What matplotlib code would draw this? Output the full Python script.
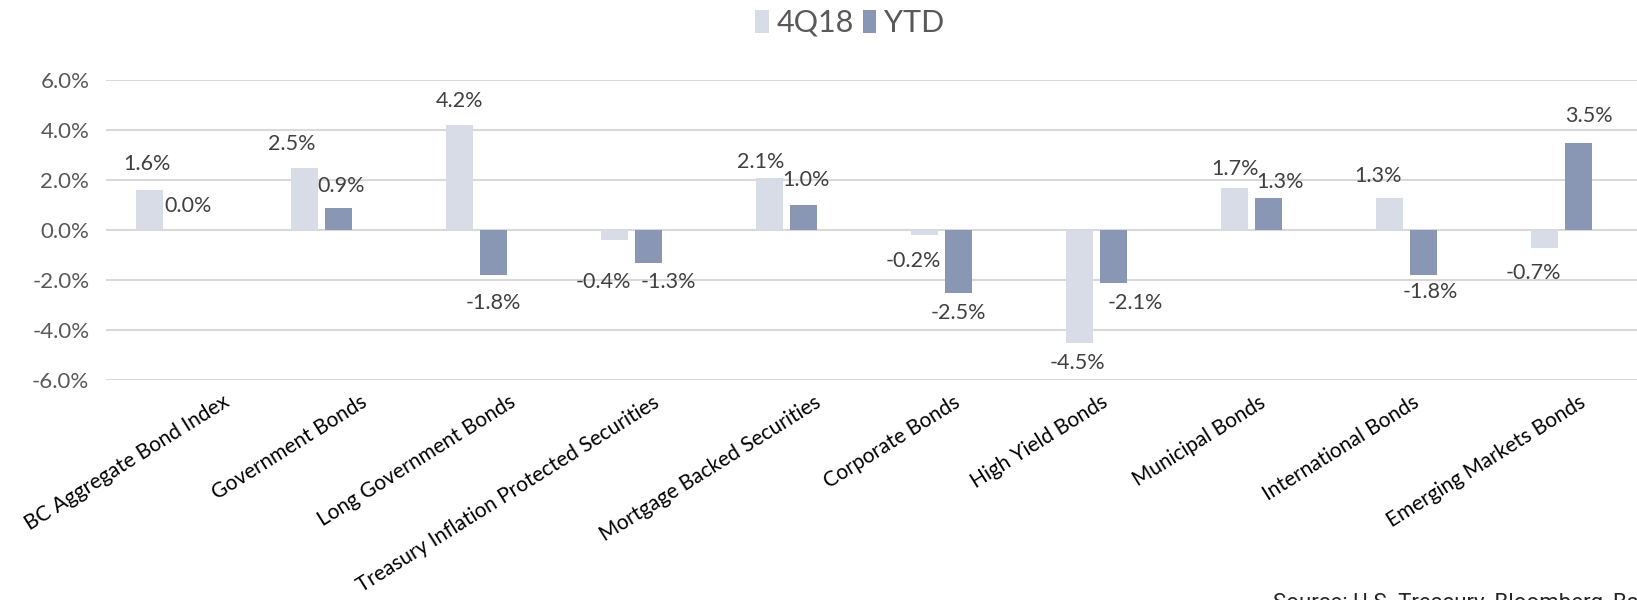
import numpy as np
import matplotlib
matplotlib.use("Agg")
import matplotlib.pyplot as plt
from matplotlib.patches import Patch
from matplotlib.ticker import FuncFormatter

# Fixed-income returns, percent
categories = [
    "BC Aggregate Bond Index",
    "Government Bonds",
    "Long Government Bonds",
    "Treasury Inflation Protected Securities",
    "Mortgage Backed Securities",
    "Corporate Bonds",
    "High Yield Bonds",
    "Municipal Bonds",
    "International Bonds",
    "Emerging Markets Bonds",
]
q4_2018 = [1.6, 2.5, 4.2, -0.4, 2.1, -0.2, -4.5, 1.7, 1.3, -0.7]
ytd = [0.0, 0.9, -1.8, -1.3, 1.0, -2.5, -2.1, 1.3, -1.8, 3.5]
series_names = ["4Q18", "YTD"]

# Label placement tweaks (pixels): horizontal shift, distance beyond the bar end
q4_dx = [-2, -12, 0, -11, -8, -11, -2, 1, -11, -11]
q4_gap = [26, 23.5, 24, 42, 15.5, 26, 20.5, 18.5, 21, 25.5]
ytd_dx = [5, 3, 0, 19.5, 2, 0, 21.5, 11.5, 6.5, 10]
ytd_gap = [24, 21, 28, 19.5, 25, 20.5, 20.5, 16, 16.7, 27]
# Horizontal shift of each category label's upper-right end (pixels)
cat_dx = [56, 39, 32, 21, 27, 12, 4, 7, 6, 17]

LIGHT = "#D7DCE6"
DARK = "#8A97B4"
FONT = "Lato"

W, H, DPI = 1637, 600, 100
fig = plt.figure(figsize=(W / DPI, H / DPI), dpi=DPI)
fig.patch.set_facecolor("white")
ax = fig.add_axes([106 / W, 220 / H, (W - 106) / W, 300 / H])

x = np.arange(len(categories))
width = 0.174
off = 0.111
ax.bar(x - off, q4_2018, width=width, color=LIGHT, zorder=2)
ax.bar(x + off, ytd, width=width, color=DARK, zorder=2)

ax.set_xlim(-0.389, 9.488)
ax.set_ylim(-6, 6)
ax.set_yticks(np.arange(-6, 7, 2))
ax.yaxis.set_major_formatter(FuncFormatter(lambda v, p: f"{v:.1f}%"))
ax.yaxis.grid(True, color="#D9D9D9", linewidth=1.5, zorder=0)
ax.set_axisbelow(True)
for s in ax.spines.values():
    s.set_visible(False)
ax.tick_params(axis="y", length=0, pad=12, labelsize=16, labelcolor="#595959")
for t in ax.get_yticklabels():
    t.set_fontfamily(FONT)

ax.set_xticks(x)
ax.set_xticklabels([])
ax.tick_params(axis="x", length=0)

px = 72 / DPI

# Category labels, rotated, with their upper-right end near each group
for xi, name, dx in zip(x, categories, cat_dx):
    ax.annotate(name, xy=(xi, 0), xycoords=("data", "axes fraction"),
                xytext=(dx * px, -12 * px), textcoords="offset points",
                rotation=32, rotation_mode="anchor", ha="right", va="top",
                fontsize=15, fontfamily=FONT, color="black",
                annotation_clip=False)


def label_bars(xs, vals, dxs, gaps):
    for xi, v, dx, g in zip(xs, vals, dxs, gaps):
        sign = 1 if v >= 0 else -1
        ax.annotate(f"{v:.1f}%", xy=(xi, v), xytext=(dx * px, sign * g * px),
                    textcoords="offset points", ha="center", va="center",
                    fontsize=15.5, color="#404040", fontfamily=FONT, zorder=3)


label_bars(x - off, q4_2018, q4_dx, q4_gap)
label_bars(x + off, ytd, ytd_dx, ytd_gap)

handles = [Patch(facecolor=LIGHT), Patch(facecolor=DARK)]
fig.legend(handles, series_names, loc="center", bbox_to_anchor=(0.519, 1 - 23 / H),
           ncol=2, frameon=False, handlelength=0.45, handleheight=0.75,
           handletextpad=0.25, columnspacing=0.3,
           prop={"family": FONT, "size": 22}, labelcolor="#595959")

fig.text(1273 / W, 7 / H, "Source: U.S. Treasury, Bloomberg, Barclays",
         ha="left", va="top", fontsize=16, fontfamily="Roboto", color="#262626")

fig.savefig("out.png", dpi=DPI, facecolor="white")
